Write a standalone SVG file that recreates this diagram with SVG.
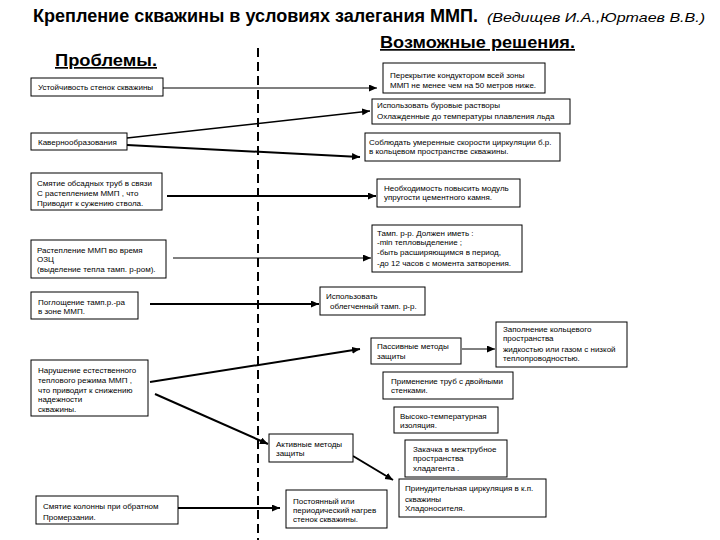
<svg xmlns="http://www.w3.org/2000/svg" width="720" height="540" viewBox="0 0 720 540">
<style>
  .box{fill:#fff;stroke:#000;stroke-width:1}
  .t{font-family:"Liberation Sans",Arial,sans-serif;font-size:8px;fill:#000}
  .c{stroke:#000;fill:none}
</style>
<defs>
  <marker id="ah" markerUnits="userSpaceOnUse" markerWidth="9" markerHeight="8" refX="8" refY="3.5" orient="auto">
    <path d="M0,0 L8,3.5 L0,7 z" fill="#000"/>
  </marker>
</defs>
<rect width="720" height="540" fill="#fff"/>
<g id="title">
  <text x="33" y="22" font-family="Liberation Sans,Arial,sans-serif" font-size="18" font-weight="bold" textLength="445" lengthAdjust="spacingAndGlyphs">Крепление скважины в условиях залегания ММП.</text>
  <text x="487" y="22" font-family="Liberation Sans,Arial,sans-serif" font-size="13.5" font-style="italic" textLength="218" lengthAdjust="spacingAndGlyphs">(Ведищев И.А.,Юртаев В.В.)</text>
  <text x="380" y="48" font-family="Liberation Sans,Arial,sans-serif" font-size="17" font-weight="bold" text-decoration="underline" textLength="195" lengthAdjust="spacingAndGlyphs">Возможные решения.</text>
  <text x="55" y="66" font-family="Liberation Sans,Arial,sans-serif" font-size="17" font-weight="bold" text-decoration="underline" textLength="102" lengthAdjust="spacingAndGlyphs">Проблемы.</text>
</g>
<line x1="258" y1="48" x2="258" y2="540" stroke="#000" stroke-width="2" stroke-dasharray="9,5"/>
<g id="connectors">
  <line class="c" x1="163" y1="88" x2="377" y2="88" stroke-width="1.2" marker-end="url(#ah)"/>
  <line class="c" x1="127" y1="138" x2="370" y2="111" stroke-width="1.5" marker-end="url(#ah)"/>
  <line class="c" x1="127" y1="145" x2="360" y2="157" stroke-width="2" marker-end="url(#ah)"/>
  <line class="c" x1="167" y1="196" x2="376" y2="196" stroke-width="2" marker-end="url(#ah)"/>
  <line class="c" x1="173" y1="258" x2="371" y2="258" stroke-width="1" marker-end="url(#ah)"/>
  <line class="c" x1="150" y1="304" x2="319" y2="304" stroke-width="2" marker-end="url(#ah)"/>
  <line class="c" x1="150" y1="382" x2="360" y2="349" stroke-width="2" marker-end="url(#ah)"/>
  <line class="c" x1="155" y1="394" x2="268" y2="444" stroke-width="2" marker-end="url(#ah)"/>
  <line class="c" x1="462" y1="349" x2="495" y2="349" stroke-width="1" marker-end="url(#ah)"/>
  <line class="c" x1="353" y1="456" x2="393" y2="480" stroke-width="2" marker-end="url(#ah)"/>
  <line class="c" x1="178" y1="508" x2="280" y2="508" stroke-width="2" marker-end="url(#ah)"/>
</g>
<g id="p1"><rect class="box" x="31" y="78" width="132" height="18"/><text class="t" x="38" y="90">Устойчивость стенок скважины</text></g>
<g id="p2"><rect class="box" x="31" y="133" width="96" height="17"/><text class="t" x="38" y="145">Кавернообразования</text></g>
<g id="p3"><rect class="box" x="31" y="173" width="131" height="37"/>
  <text class="t" x="37" y="186">Смятие обсадных труб в связи</text>
  <text class="t" x="37" y="196">С растеплением ММП , что</text>
  <text class="t" x="37" y="206">Приводит к сужению ствола.</text></g>
<g id="p4"><rect class="box" x="31" y="240" width="135" height="38"/>
  <text class="t" x="37" y="253">Растепление ММП во время</text>
  <text class="t" x="37" y="262">ОЗЦ</text>
  <text class="t" x="37" y="272">(выделение тепла тамп. р-ром).</text></g>
<g id="p5"><rect class="box" x="31" y="292" width="107" height="27"/>
  <text class="t" x="38" y="305">Поглощение тамп.р.-ра</text>
  <text class="t" x="38" y="314">в зоне ММП.</text></g>
<g id="p6"><rect class="box" x="31" y="360" width="117" height="56"/>
  <text class="t" x="38" y="373">Нарушение естественного</text>
  <text class="t" x="38" y="383">теплового режима ММП ,</text>
  <text class="t" x="38" y="393">что приводит к снижению</text>
  <text class="t" x="38" y="402">надежности</text>
  <text class="t" x="38" y="412">скважины.</text></g>
<g id="p7"><rect class="box" x="36" y="496" width="142" height="28"/>
  <text class="t" x="43" y="509">Смятие колонны при обратном</text>
  <text class="t" x="43" y="520">Промерзании.</text></g>
<g id="sA"><rect class="box" x="383" y="63" width="162" height="30"/>
  <text class="t" x="390" y="78">Перекрытие кондуктором всей зоны</text>
  <text class="t" x="390" y="88">ММП не менее чем на 50 метров ниже.</text></g>
<g id="sB"><rect class="box" x="372" y="99" width="198" height="25"/>
  <text class="t" x="377" y="108">Использовать буровые растворы</text>
  <text class="t" x="377" y="119">Охлажденные до температуры плавления льда</text></g>
<g id="sC"><rect class="box" x="365" y="133" width="195" height="28"/>
  <text class="t" x="369" y="145">Соблюдать умеренные скорости циркуляции б.р.</text>
  <text class="t" x="369" y="154">в кольцевом пространстве скважины.</text></g>
<g id="sD"><rect class="box" x="377" y="179" width="143" height="28"/>
  <text class="t" x="384" y="191">Необходимость повысить модуль</text>
  <text class="t" x="384" y="200">упругости цементного камня.</text></g>
<g id="sE"><rect class="box" x="372" y="225" width="150" height="47"/>
  <text class="t" x="377" y="236">Тамп. р-р. Должен иметь :</text>
  <text class="t" x="377" y="245">-min тепловыделение ;</text>
  <text class="t" x="377" y="255">-быть расширяющимся в период,</text>
  <text class="t" x="377" y="266">-до 12 часов с момента затворения.</text></g>
<g id="sF"><rect class="box" x="320" y="287" width="105" height="28"/>
  <text class="t" x="326" y="299">Использовать</text>
  <text class="t" x="330" y="309">облегченный тамп. р-р.</text></g>
<g id="sG"><rect class="box" x="371" y="338" width="90" height="26"/>
  <text class="t" x="377" y="349">Пассивные методы</text>
  <text class="t" x="377" y="359">защиты</text></g>
<g id="sH"><rect class="box" x="496" y="322" width="131" height="45"/>
  <text class="t" x="503" y="332">Заполнение кольцевого</text>
  <text class="t" x="503" y="341">пространства</text>
  <text class="t" x="503" y="352">жидкостью или газом с низкой</text>
  <text class="t" x="503" y="361">теплопроводностью.</text></g>
<g id="sI"><rect class="box" x="383" y="372" width="130" height="27"/>
  <text class="t" x="391" y="384">Применение труб с двойными</text>
  <text class="t" x="391" y="393">стенками.</text></g>
<g id="sJ"><rect class="box" x="394" y="407" width="104" height="26"/>
  <text class="t" x="400" y="419">Высоко-температурная</text>
  <text class="t" x="400" y="428">изоляция.</text></g>
<g id="sK"><rect class="box" x="269" y="434" width="84" height="28"/>
  <text class="t" x="276" y="447">Активные методы</text>
  <text class="t" x="276" y="456">защиты</text></g>
<g id="sL"><rect class="box" x="405" y="440" width="102" height="37"/>
  <text class="t" x="413" y="452">Закачка в межтрубное</text>
  <text class="t" x="413" y="461">пространства</text>
  <text class="t" x="413" y="471">хладагента .</text></g>
<g id="sM"><rect class="box" x="399" y="479" width="147" height="38"/>
  <text class="t" x="405" y="491">Принудительная циркуляция в к.п.</text>
  <text class="t" x="405" y="502">скважины</text>
  <text class="t" x="405" y="511">Хладоносителя.</text></g>
<g id="sN"><rect class="box" x="286" y="490" width="101" height="38"/>
  <text class="t" x="293" y="504">Постоянный или</text>
  <text class="t" x="293" y="513">периодический нагрев</text>
  <text class="t" x="293" y="522">стенок скважины.</text></g>
</svg>
